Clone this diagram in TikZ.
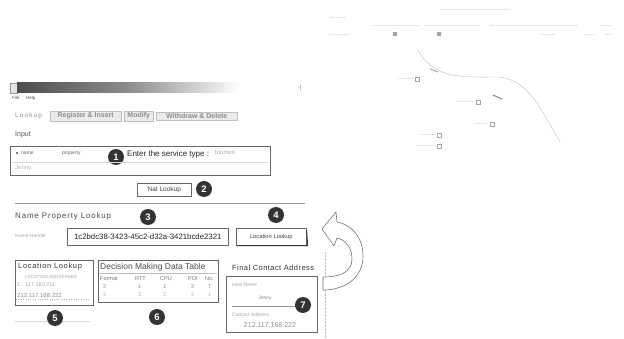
\documentclass[tikz,border=0pt]{standalone}
\usepackage{fontspec}
\setmainfont{Liberation Sans}
\begin{document}
\begin{tikzpicture}[x=1pt,y=-1pt,
  lbl/.style={font=\fontsize{8}{9}\selectfont, inner sep=0pt, anchor=west, text=black!80},
  faint/.style={font=\fontsize{5}{6}\selectfont, inner sep=0pt, anchor=west, text=black!35},
  badge/.style={circle, fill=black!80, text=white, font=\bfseries\fontsize{9.5}{9.5}\selectfont, minimum size=16pt, inner sep=0pt},
  panel/.style={draw=black!60, line width=0.9pt, anchor=north west, inner sep=0pt},
  tabbtn/.style={draw=black!25, fill=black!8, text=black!45, font=\bfseries\fontsize{7}{7}\selectfont, inner sep=1.6pt, anchor=west},
  pushbtn/.style={draw=black!60, line width=0.6pt, fill=white, font=\fontsize{6.5}{7}\selectfont, inner sep=0pt, anchor=north west, text=black!75},
  mapink/.style={draw=black!25, line width=0.4pt},
  maptext/.style={draw=black!18, line width=0.9pt, dash pattern=on 1.2pt off 0.8pt},
]
\useasboundingbox (0,0) rectangle (624,339);

% ---------- window chrome ----------
\node[draw=black!40, fill=black!10, minimum width=7pt, minimum height=10pt, inner sep=0pt, anchor=north west] (icon) at (10,83) {};
\shade[left color=black!70, right color=white, middle color=black!45] (17,83) rectangle (240,93);
\node[faint, text=black!50, font=\fontsize{6}{6}\selectfont] (winctl) at (298,88) {-|};
\node[faint, text=black!70, font=\fontsize{4.5}{5}\selectfont] (menufile) at (12,98) {File};
\node[faint, text=black!70, font=\fontsize{4.5}{5}\selectfont] (menuhelp) at (26,98) {Help};

% ---------- tab row ----------
\node[faint, text=black!45, font=\fontsize{6.5}{7}\selectfont, text width=30pt] (tablookup) at (15,116) {L\,o\,o\,k\,u\,p};
\node[tabbtn, minimum width=71pt] (tabreg) at (50,116) {Register \& Insert};
\node[tabbtn, minimum width=29pt] (tabmod) at (124,116) {Modify};
\node[tabbtn, minimum width=81pt] (tabdel) at (156,116) {Withdraw \& Delete};

\node[lbl, text=black!65, font=\fontsize{7}{8}\selectfont] (inputlbl) at (15,135) {Input};

% ---------- input panel ----------
\node[panel, minimum width=260pt, minimum height=29pt] (inbox) at (10,146) {};
\fill[black!70] (17,153) circle (1.2pt);
\node[faint, text=black!60] (rname) at (21,153) {name};
\node[faint, text=black!60] (rprop) at (62,153) {property};
\node[badge] (b1) at (116,157) {1};
\node[lbl, text=black!85] (svc) at (127,154) {Enter the service type :};
\node[faint, font=\fontsize{6}{7}\selectfont] (svcval) at (215,152) {tourism};
\draw[black!15] (12,162) -- (268,162);
\node[faint, font=\fontsize{6}{7}\selectfont, text=black!30] (hostval) at (15,168) {Jenny..};

\node[pushbtn, minimum width=54pt, minimum height=13pt] (natbtn) at (137,183) {Nat Lookup};
\node[badge] (b2) at (204,189) {2};

\draw[black!40, line width=0.5pt] (15,203) -- (305,203);

% ---------- name property lookup ----------
\node[lbl, text=black!70, font=\fontsize{8}{9}\selectfont\addfontfeatures{LetterSpace=10}] (nplbl) at (15,216) {Name Property Lookup};
\node[badge] (b3) at (148,217) {3};
\node[badge] (b4) at (276,215) {4};
\node[faint] (nhlbl) at (15,236) {Name Handle};
\node[pushbtn, minimum width=161pt, minimum height=17pt, font=\fontsize{7.8}{8}\selectfont, text=black!85] (handle) at (67,228) {1c2bdc38-3423-45c2-d32a-3421bcde2321};
\node[pushbtn, minimum width=70pt, minimum height=17pt, font=\fontsize{5.8}{6}\selectfont] (locbtn) at (236,228) {Location Lookup};
\draw[black!80, line width=1pt] ([xshift=1pt]locbtn.south west) -- ([xshift=1pt]locbtn.south east) -- ([yshift=-2pt]locbtn.north east);

% ---------- location lookup ----------
\node[panel, minimum width=78pt, minimum height=45pt] (locbox) at (15,260) {};
\node[lbl, font=\fontsize{7.5}{8}\selectfont\addfontfeatures{LetterSpace=9}] (loctitle) at (18,267) {Location Lookup};
\node[faint, font=\fontsize{4.5}{5}\selectfont] (lochead) at (25,277) {LOCATION ADDRESSES};
\node[faint, font=\fontsize{5.5}{6}\selectfont] (locrow1) at (17,285) {1 . 117.160.211};
\node[faint, font=\fontsize{6}{6}\selectfont, text=black!45] (locrow2) at (17,295) {212.117.168.222};
\draw[black!30, dotted] (16,299) -- (90,299);
\draw[black!15] (15,321) -- (90,321);
\node[badge] (b5) at (55,318) {5};

% ---------- decision table ----------
\node[panel, minimum width=120pt, minimum height=42pt] (dmbox) at (98,260) {};
\node[lbl, font=\fontsize{8.5}{9}\selectfont, text=black!70] (dmtitle) at (100,267) {Decision Making Data Table};
\draw[black!25] (99,273) -- (217,273);
\foreach \name/\xx/\hd/\ra/\rb in {cfmt/100/Format/2/3, crtt/135/RTT/1/3, ccpu/160/CPU/1/2, cpoi/188/POI/2/2, cno/205/No./7/1}{
  \node[faint, text=black!55, font=\fontsize{5.5}{6}\selectfont] (\name h) at (\xx,279) {\hd};
  \node[faint, text=black!45, font=\fontsize{5.5}{6}\selectfont] (\name a) at (\xx+3,287) {\ra};
  \node[faint, text=black!30, font=\fontsize{5.5}{6}\selectfont] (\name b) at (\xx+3,295) {\rb};
}
\node[badge] (b6) at (157,317) {6};

% ---------- final contact address ----------
\node[lbl, font=\fontsize{7.5}{8}\selectfont\addfontfeatures{LetterSpace=6}] (fctitle) at (232,268) {Final Contact Address};
\node[panel, minimum width=91pt, minimum height=56pt] (fcbox) at (226,276) {};
\node[faint] (fchost) at (232,285) {Host Name};
\node[faint, anchor=center, text=black!45] (fchostv) at (265,298) {Jenny};
\draw[black!40] (232,306) -- (298,306);
\node[faint] (fcaddr) at (232,315) {Contact Address};
\node[faint, anchor=center, font=\fontsize{7}{7}\selectfont, text=black!45] (fcaddrv) at (270,325) {212.117.168.222};
\node[badge] (b7) at (303,305) {7};
\draw[black!25, densely dotted] (325,252) -- (325,339);

% ---------- hollow return arrow ----------
\coordinate (arrtip) at (322,229);
\draw[black!55, line width=0.6pt, fill=white, line join=round]
  (323,290) .. controls (345,290) and (363,278) .. (363,256)
  .. controls (363,236) and (350,224) .. (337,222)
  -- (336,212) -- (arrtip) -- (334,246) -- (337,238)
  .. controls (346,240) and (352,248) .. (352,259)
  .. controls (352,272) and (340,277) .. (323,277) -- cycle;

% ---------- faint map view ----------
\draw[maptext] (440,9) -- (510,9);
\draw[maptext] (330,17) -- (345,17);
\draw[maptext] (372,25) -- (420,25) (425,25) -- (480,25) (490,25) -- (578,25) (600,25) -- (612,25);
\draw[maptext] (330,34) -- (350,34) (540,34) -- (555,34) (585,34) -- (595,34) (605,34) -- (612,34);
\fill[black!35] (393,32) rectangle (397,36) (437,32) rectangle (441,36);
\draw[mapink] (418,50) .. controls (424,62) and (432,68) .. (445,73)
  .. controls (460,78) and (480,77) .. (498,77)
  .. controls (515,78) and (525,88) .. (535,100)
  .. controls (545,115) and (552,128) .. (560,142);
\draw[black!35, line width=1.1pt] (430,69) -- (438,72);
\draw[black!40, line width=1.3pt] (493,95) -- (502,99);
\foreach \name/\xa/\xb/\yy in {ma/398/413/78, mb/456/474/101, mc/475/488/123, md/420/435/134, me/416/435/145}{
  \draw[maptext] (\xa,\yy) -- (\xb,\yy);
  \node[draw=black!35, line width=0.4pt, minimum size=3.5pt, inner sep=0pt] (\name) at (\xb+4,\yy+1) {};
}
\end{tikzpicture}
\end{document}
